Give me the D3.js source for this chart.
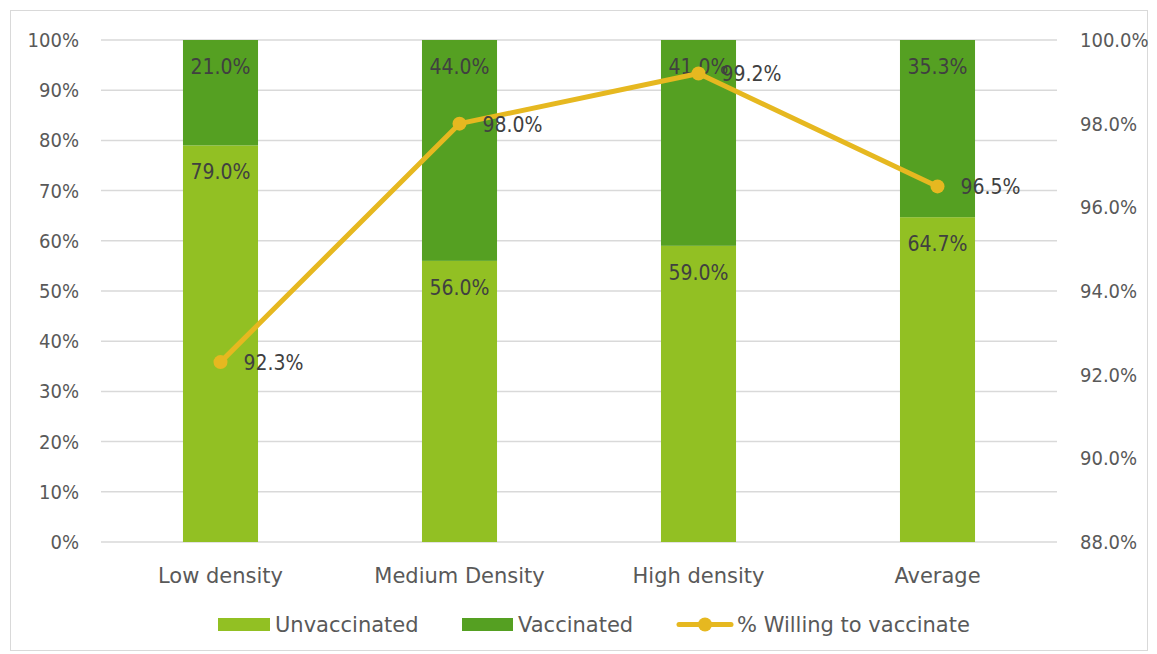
<!DOCTYPE html>
<html>
<head>
<meta charset="utf-8">
<script src="https://cdn.jsdelivr.net/npm/d3@7"></script>
<style>
  body { margin: 0; background: #fff; }
  text { font-family: "DejaVu Sans", sans-serif; }
  .num { font-family: "DejaVu Sans Condensed", "DejaVu Sans", sans-serif; font-stretch: condensed; }
</style>
</head>
<body>
<div id="chart"></div>
<script>
// chart data
let categories = ["Low density", "Medium Density", "High density", "Average"];
let unvaccinated = [79.0, 56.0, 59.0, 64.7];
let vaccinated = [21.0, 44.0, 41.0, 35.3];
let willing = [92.3, 98.0, 99.2, 96.5];
let leftTicks = [0, 10, 20, 30, 40, 50, 60, 70, 80, 90, 100];
let rightTicks = [88, 90, 92, 94, 96, 98, 100];

let width = 1157;
let height = 654;
let plotLeft = 101;
let plotRight = 1057;
let plotTop = 40;
let plotBot = 542;

let lightGreen = "#92c023";
let darkGreen = "#55a022";
let gold = "#e6b820";

let svg = d3
  .select("#chart")
  .append("svg")
  .attr("width", width)
  .attr("height", height);

// outer frame
svg.append("rect")
  .attr("x", 10.5).attr("y", 10.5)
  .attr("width", 1137).attr("height", 640)
  .attr("fill", "none")
  .attr("stroke", "#d9d9d9");

let xScale = d3.scaleBand()
  .domain(categories)
  .range([plotLeft, plotRight])
  .paddingInner(0.686)
  .paddingOuter(0.343);

let yLeft = d3.scaleLinear().domain([0, 100]).range([plotBot, plotTop]);
let yRight = d3.scaleLinear().domain([88, 100]).range([plotBot, plotTop]);

// gridlines
svg.append("g")
  .selectAll("line")
  .data(leftTicks)
  .enter()
  .append("line")
  .attr("x1", plotLeft).attr("x2", plotRight)
  .attr("y1", d => yLeft(d)).attr("y2", d => yLeft(d))
  .attr("stroke", "#d9d9d9")
  .attr("stroke-width", 1.5);

// left axis
let yAxisL = d3.axisLeft(yLeft).tickValues(leftTicks).tickFormat(d => d + "%").tickSize(0).tickPadding(22);
let gL = svg.append("g").attr("transform", "translate(" + plotLeft + ",0)").call(yAxisL);
gL.select(".domain").remove();
gL.selectAll("text").attr("class", "num").attr("font-size", 20).attr("fill", "#595959").attr("font-family", null);

// right axis
let yAxisR = d3.axisRight(yRight).tickValues(rightTicks).tickFormat(d => d.toFixed(1) + "%").tickSize(0).tickPadding(23);
let gR = svg.append("g").attr("transform", "translate(" + plotRight + ",0)").call(yAxisR);
gR.select(".domain").remove();
gR.selectAll("text").attr("class", "num").attr("font-size", 20).attr("fill", "#595959").attr("font-family", null);

// category axis
let xAxis = d3.axisBottom(xScale).tickSize(0).tickPadding(26);
let gX = svg.append("g").attr("transform", "translate(0," + plotBot + ")").call(xAxis);
gX.select(".domain").remove();
gX.selectAll("text").attr("font-size", 21).attr("fill", "#595959").attr("font-family", null);

let rows = categories.map((c, i) => ({ cat: c, unv: unvaccinated[i], vac: vaccinated[i], will: willing[i] }));

// bars
svg.append("g").selectAll("rect").data(rows).enter().append("rect")
  .attr("x", d => xScale(d.cat))
  .attr("width", xScale.bandwidth())
  .attr("y", d => yLeft(d.unv))
  .attr("height", d => yLeft(0) - yLeft(d.unv))
  .attr("fill", lightGreen);

svg.append("g").selectAll("rect").data(rows).enter().append("rect")
  .attr("x", d => xScale(d.cat))
  .attr("width", xScale.bandwidth())
  .attr("y", d => yLeft(d.unv + d.vac))
  .attr("height", d => yLeft(d.unv) - yLeft(d.unv + d.vac))
  .attr("fill", darkGreen);

// bar labels
svg.append("g").selectAll("text").data(rows).enter().append("text")
  .attr("class", "num")
  .attr("x", d => xScale(d.cat) + xScale.bandwidth() / 2)
  .attr("y", d => yLeft(d.unv) + 34)
  .attr("text-anchor", "middle")
  .attr("font-size", 21)
  .attr("fill", "#404040")
  .text(d => d.unv.toFixed(1) + "%");

svg.append("g").selectAll("text").data(rows).enter().append("text")
  .attr("class", "num")
  .attr("x", d => xScale(d.cat) + xScale.bandwidth() / 2)
  .attr("y", d => yLeft(d.unv + d.vac) + 34)
  .attr("text-anchor", "middle")
  .attr("font-size", 21)
  .attr("fill", "#404040")
  .text(d => d.vac.toFixed(1) + "%");

// line
let cx = d => xScale(d.cat) + xScale.bandwidth() / 2;
let line = d3.line().x(cx).y(d => yRight(d.will));
svg.append("path")
  .datum(rows)
  .attr("d", line)
  .attr("fill", "none")
  .attr("stroke", gold)
  .attr("stroke-width", 5)
  .attr("stroke-linejoin", "round");

svg.append("g").selectAll("circle").data(rows).enter().append("circle")
  .attr("cx", cx)
  .attr("cy", d => yRight(d.will))
  .attr("r", 7)
  .attr("fill", gold);

svg.append("g").selectAll("text").data(rows).enter().append("text")
  .attr("class", "num")
  .attr("x", d => cx(d) + 23)
  .attr("y", d => yRight(d.will) + 8)
  .attr("font-size", 21)
  .attr("fill", "#404040")
  .text(d => d.will.toFixed(1) + "%");

// legend
let legend = svg.append("g").attr("font-size", 21).attr("fill", "#595959");
legend.append("rect").attr("x", 218).attr("y", 618).attr("width", 52).attr("height", 13).attr("fill", lightGreen);
legend.append("text").attr("x", 275).attr("y", 632).text("Unvaccinated");
legend.append("rect").attr("x", 462).attr("y", 618).attr("width", 51).attr("height", 13).attr("fill", darkGreen);
legend.append("text").attr("x", 518).attr("y", 632).text("Vaccinated");
legend.append("line").attr("x1", 679).attr("x2", 731).attr("y1", 624.5).attr("y2", 624.5)
  .attr("stroke", gold).attr("stroke-width", 5).attr("stroke-linecap", "round");
legend.append("circle").attr("cx", 705).attr("cy", 624.5).attr("r", 7).attr("fill", gold);
legend.append("text").attr("x", 737).attr("y", 632).text("% Willing to vaccinate");
</script>
</body>
</html>
